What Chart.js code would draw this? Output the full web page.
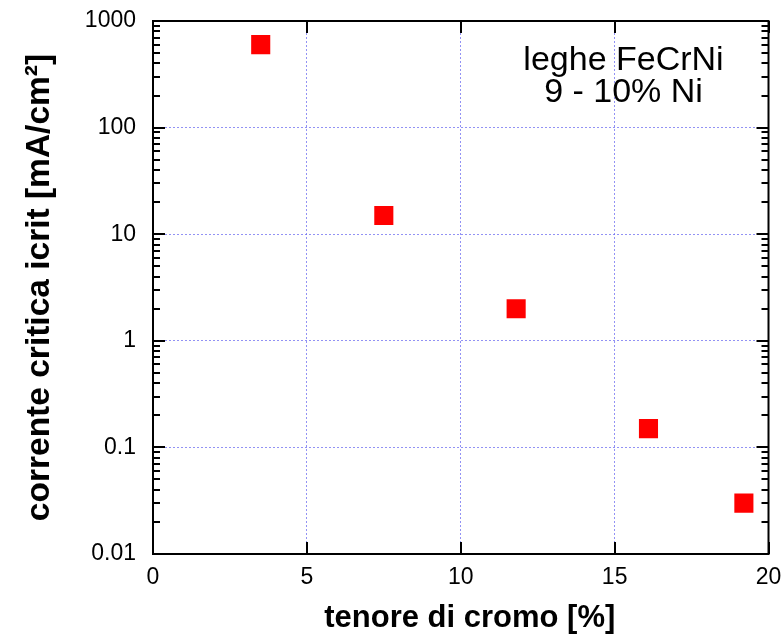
<!DOCTYPE html>
<html>
<head>
<meta charset="utf-8">
<script src="https://cdn.jsdelivr.net/npm/chart.js@4"></script>
<style>
  html, body { margin: 0; padding: 0; background: #fff; }
  #wrap { width: 782px; height: 635px; }
</style>
</head>
<body>
<div id="wrap"><canvas id="chart" width="782" height="635"></canvas></div>
<script>
// Cr content (%) vs critical passivation current, FeCrNi alloys 9-10% Ni
const cromo   = [3.5, 7.5, 11.8, 16.1, 19.2];
const icrit   = [600, 15, 2, 0.15, 0.03];
const xTicks  = [0, 5, 10, 15, 20];
const yDecades = [0.01, 0.1, 1, 10, 100, 1000];
const noteLines = ['leghe FeCrNi', '9 - 10% Ni'];

const FONT = '"Liberation Sans", Arial, Helvetica, sans-serif';
const GRID = 'rgba(110,110,240,0.75)';

// frame with inward major ticks on all sides, minor ticks on the log axis
const frameTicks = {
    id: 'frameTicks',
    beforeDatasetsDraw(chart) {
        const { ctx, chartArea: a, scales: { x, y } } = chart;
        const major = 12, minor = 7;
        ctx.save();
        ctx.strokeStyle = '#000';
        ctx.lineWidth = 2;
        ctx.beginPath();
        xTicks.forEach(v => {
            const px = Math.round(x.getPixelForValue(v));
            ctx.moveTo(px, a.bottom); ctx.lineTo(px, a.bottom - major);
            ctx.moveTo(px, a.top);    ctx.lineTo(px, a.top + major);
        });
        yDecades.forEach((d, i) => {
            const py = Math.round(y.getPixelForValue(d));
            ctx.moveTo(a.left, py);  ctx.lineTo(a.left + major, py);
            ctx.moveTo(a.right, py); ctx.lineTo(a.right - major, py);
            if (i === yDecades.length - 1) return;
            for (let k = 2; k <= 9; k++) {
                const pm = Math.round(y.getPixelForValue(d * k));
                ctx.moveTo(a.left, pm);  ctx.lineTo(a.left + minor, pm);
                ctx.moveTo(a.right, pm); ctx.lineTo(a.right - minor, pm);
            }
        });
        ctx.stroke();
        ctx.strokeRect(a.left, a.top, a.right - a.left, a.bottom - a.top);
        ctx.restore();
    },
    afterDraw(chart) {
        const { ctx, chartArea: a } = chart;
        ctx.save();
        ctx.fillStyle = '#000';
        ctx.textAlign = 'center';
        ctx.textBaseline = 'alphabetic';
        ctx.font = '34px ' + FONT;
        const cx = a.right - 145;
        ctx.fillText(noteLines[0], cx, a.top + 49);
        ctx.fillText(noteLines[1], cx, a.top + 81);
        // x axis title, a little right of the plot centre
        ctx.font = 'bold 31px ' + FONT;
        ctx.fillText('tenore di cromo [%]', (a.left + a.right) / 2 + 9, 627);
        ctx.restore();
    }
};

new Chart(document.getElementById('chart'), {
    type: 'scatter',
    data: {
        datasets: [{
            data: cromo.map((c, i) => ({ x: c, y: icrit[i] })),
            pointStyle: 'rect',
            pointRadius: 13.5,
            pointHoverRadius: 13.5,
            backgroundColor: '#ff0000',
            borderWidth: 0,
        }],
    },
    options: {
        responsive: false,
        animation: false,
        events: [],
        layout: { padding: { left: 0, top: 21, right: 13, bottom: 0 } },
        plugins: { legend: { display: false }, tooltip: { enabled: false } },
        scales: {
            x: {
                type: 'linear',
                min: 0, max: 20,
                afterBuildTicks(s) { s.ticks = xTicks.map(v => ({ value: v })); },
                afterFit(s) { s.height = 81; s.paddingLeft = 0; s.paddingRight = 0; },
                grid: { color: GRID, lineWidth: 1, drawTicks: false },
                border: { display: false, dash: [2, 2] },
                ticks: { color: '#000', padding: 10, font: { family: FONT, size: 23 } },
            },
            y: {
                type: 'logarithmic',
                min: 0.01, max: 1000,
                afterBuildTicks(s) { s.ticks = yDecades.map(v => ({ value: v, major: true })); },
                afterFit(s) { s.width = 153; s.paddingTop = 0; s.paddingBottom = 0; },
                grid: { color: GRID, lineWidth: 1, drawTicks: false },
                border: { display: false, dash: [2, 2] },
                ticks: {
                    color: '#000', padding: 17,
                    font: { family: FONT, size: 23 },
                    callback: v => String(v),
                },
                title: {
                    display: true,
                    text: 'corrente critica icrit [mA/cm²]',
                    color: '#000',
                    padding: { top: 20, bottom: 0 },
                    font: { family: FONT, size: 33.5, weight: 'bold' },
                },
            },
        },
    },
    plugins: [frameTicks],
});
</script>
</body>
</html>
